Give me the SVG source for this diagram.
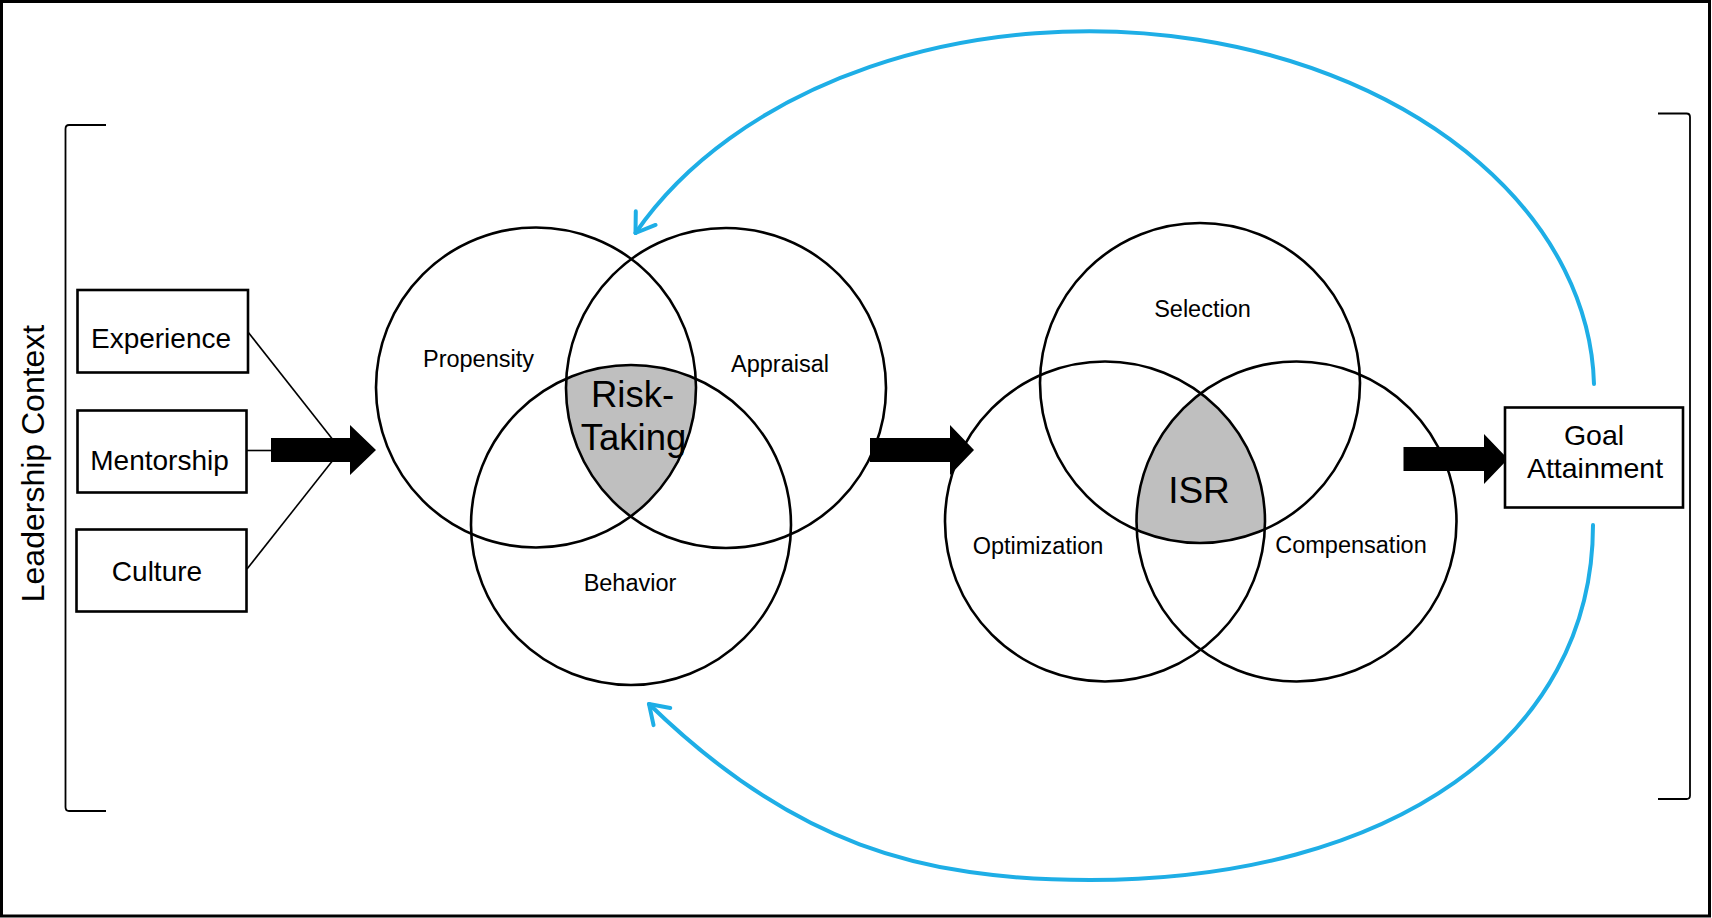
<svg xmlns="http://www.w3.org/2000/svg" width="1712" height="918" viewBox="0 0 1712 918">
<style>
  .t { font-family: "Liberation Sans", Arial, Helvetica, sans-serif; fill: #000; text-anchor: middle; }
  .box { fill: #fff; stroke: #000; stroke-width: 2.6; }
  .ring { fill: none; stroke: #000; stroke-width: 2.6; }
  .shade { fill: #bfbfbf; stroke: none; }
  .blk { fill: #000; stroke: none; }
  .thin { fill: none; stroke: #000; stroke-width: 1.6; }
  .brk { fill: none; stroke: #000; stroke-width: 1.8; }
  .fb { fill: none; stroke: #1eaee6; stroke-width: 4; stroke-linecap: round; }
</style>
<defs>
  <marker id="openArrow" markerUnits="userSpaceOnUse" markerWidth="40" markerHeight="40" viewBox="-30 -20 40 40" refX="0" refY="0" orient="auto" overflow="visible">
    <path d="M-18,-12 L0,0 L-18,12" fill="none" stroke="#1eaee6" stroke-width="4" stroke-linecap="round" stroke-linejoin="round"/>
  </marker>
  <clipPath id="clipA"><circle cx="726" cy="388" r="160"/></clipPath>
  <clipPath id="clipB"><circle cx="631" cy="525" r="160"/></clipPath>
  <clipPath id="clipOpt"><circle cx="1105" cy="521.5" r="160"/></clipPath>
  <clipPath id="clipComp"><circle cx="1296.5" cy="521.5" r="160"/></clipPath>
</defs>

<rect x="1.5" y="1.5" width="1708" height="914.5" fill="#fff" stroke="#000" stroke-width="3"/>

<g id="leadership-context">
  <path class="brk" d="M106,125 L69,125 Q65.5,125 65.5,129 L65.5,807 Q65.5,811 69,811 L106,811"/>
  <text class="t" font-size="32" transform="translate(43.5,463.5) rotate(-90)">Leadership Context</text>
</g>

<g id="right-bracket">
  <path class="brk" d="M1658,113.5 L1686.5,113.5 Q1690,113.5 1690,117 L1690,795.5 Q1690,799 1686.5,799 L1658,799"/>
</g>

<g id="connectors">
  <line class="thin" x1="248" y1="332" x2="341" y2="450"/>
  <line class="thin" x1="246.5" y1="450.5" x2="272" y2="450.5"/>
  <line class="thin" x1="247" y1="569" x2="341" y2="450"/>
  <polygon class="blk" points="271,438 350,438 350,425 376,450 350,475 350,462 271,462"/>
  <polygon class="blk" points="870,438 950,438 950,425 974,450 950,475 950,462 870,462"/>
  <polygon class="blk" points="1403.5,447 1484,447 1484,434 1508,459 1484,484 1484,471 1403.5,471"/>
  <path class="fb" marker-end="url(#openArrow)" d="M1594,384 A505,360 0 0,0 635.5,233"/>
  <path class="fb" marker-end="url(#openArrow)" d="M1593,525 C1593,738 1392,880 1090,880 C920,880 792.4,843.4 649,704"/>
</g>

<g id="experience">
  <rect class="box" x="77.5" y="290" width="170.5" height="82.5"/>
  <text class="t" font-size="28" x="161" y="347.5">Experience</text>
</g>
<g id="mentorship">
  <rect class="box" x="77.5" y="410.5" width="169" height="82"/>
  <text class="t" font-size="28" x="159.5" y="469.5">Mentorship</text>
</g>
<g id="culture">
  <rect class="box" x="76.5" y="529.5" width="170" height="82"/>
  <text class="t" font-size="28" x="157" y="580.5">Culture</text>
</g>

<g id="risk-taking-venn">
  <g clip-path="url(#clipA)">
    <circle class="shade" cx="536" cy="387.5" r="160" clip-path="url(#clipB)"/>
  </g>
  <circle id="propensity" class="ring" cx="536" cy="387.5" r="160"/>
  <circle id="appraisal" class="ring" cx="726" cy="388" r="160"/>
  <circle id="behavior" class="ring" cx="631" cy="525" r="160"/>
  <text class="t" font-size="23.5" x="478.5" y="366.5">Propensity</text>
  <text class="t" font-size="23.5" x="780" y="372">Appraisal</text>
  <text class="t" font-size="23.5" x="630" y="591">Behavior</text>
  <text class="t" font-size="36.5" x="632.5" y="407">Risk-</text>
  <text class="t" font-size="36.5" x="633.5" y="449.5">Taking</text>
</g>

<g id="isr-venn">
  <g clip-path="url(#clipOpt)">
    <circle class="shade" cx="1200" cy="383" r="160" clip-path="url(#clipComp)"/>
  </g>
  <circle id="selection" class="ring" cx="1200" cy="383" r="160"/>
  <circle id="optimization" class="ring" cx="1105" cy="521.5" r="160"/>
  <circle id="compensation" class="ring" cx="1296.5" cy="521.5" r="160"/>
  <text class="t" font-size="23.5" x="1202.5" y="317">Selection</text>
  <text class="t" font-size="23.5" x="1038" y="554">Optimization</text>
  <text class="t" font-size="23.5" x="1351" y="553">Compensation</text>
  <text class="t" font-size="37" x="1199" y="503">ISR</text>
</g>

<g id="goal-attainment">
  <rect class="box" x="1505" y="407.5" width="178" height="100"/>
  <text class="t" font-size="28.5" x="1594" y="445">Goal</text>
  <text class="t" font-size="28.5" x="1595" y="478">Attainment</text>
</g>
</svg>
